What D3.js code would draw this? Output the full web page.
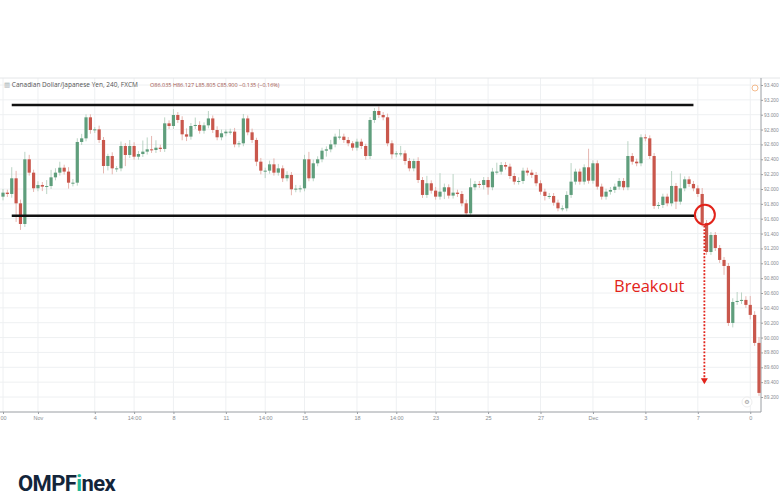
<!DOCTYPE html>
<html>
<head>
<meta charset="utf-8">
<script src="https://cdn.jsdelivr.net/npm/d3@7"></script>
<style>
  body { margin: 0; background: #fff; }
  svg { display: block; font-family: "Open Sans", "DejaVu Sans", sans-serif; }
</style>
</head>
<body>
<svg id="chart" width="780" height="503"></svg>
<script>
// CAD/JPY 4h closes
const closes = [
  91.951, 91.933, 92.144, 91.807, 91.529, 92.400, 92.220, 92.010, 92.054, 92.032,
  92.040, 92.157, 92.220, 92.287, 92.234, 92.085, 92.085, 92.633, 92.682, 92.965,
  92.794, 92.803, 92.660, 92.310, 92.444, 92.278, 92.278, 92.579, 92.458, 92.579,
  92.435, 92.471, 92.503, 92.534, 92.525, 92.556, 92.539, 92.884, 92.848, 92.996,
  92.929, 92.736, 92.705, 92.848, 92.862, 92.785, 92.857, 92.950, 92.794, 92.696,
  92.750, 92.772, 92.772, 92.601, 92.615, 92.950, 92.763, 92.660, 92.368, 92.247,
  92.247, 92.332, 92.220, 92.278, 92.144, 92.189, 91.996, 92.005, 92.009, 92.400,
  92.144, 92.346, 92.400, 92.516, 92.534, 92.601, 92.705, 92.705, 92.660, 92.615,
  92.556, 92.637, 92.579, 92.444, 92.929, 93.050, 92.996, 92.965, 92.615, 92.467,
  92.480, 92.480, 92.377, 92.278, 92.377, 92.121, 91.920, 92.077, 91.978, 91.897,
  91.964, 92.023, 91.911, 91.951, 91.933, 91.807, 91.673, 92.023, 92.068, 92.054,
  92.121, 92.023, 92.234, 92.234, 92.323, 92.301, 92.175, 92.099, 92.108, 92.247,
  92.220, 92.189, 92.077, 91.964, 91.906, 91.906, 91.816, 91.740, 91.740, 91.920,
  92.099, 92.234, 92.099, 92.292, 92.112, 92.346, 92.032, 91.897, 91.964, 91.987,
  92.032, 92.108, 92.023, 92.444, 92.368, 92.346, 92.696, 92.682, 92.444, 91.772,
  91.785, 91.897, 91.807, 92.041, 91.830, 92.009, 92.130, 92.068, 92.009, 91.933,
  91.543, 91.152, 91.381, 91.206, 91.045, 90.964, 90.197, 90.479, 90.493, 90.507,
  90.440, 90.305, 89.928, 89.255
];
const firstOpen = 91.897;

const wickUp = [
  .05,.04,.15,.10,.05,.10,.06,.04,.05,.04, .08,.10,.06,.08,.04,.06,.05,.05,.06,.04,
  .04,.03,.05,.04,.03,.05,.03,.06,.04,.08, .05,.04,.15,.16,.18,.10,.04,.08,.04,.08,
  .04,.05,.08,.04,.10,.05,.04,.10,.04,.05, .05,.03,.04,.05,.03,.06,.04,.05,.03,.05,
  .04,.05,.08,.06,.04,.05,.04,.05,.04,.06, .10,.05,.04,.04,.04,.06,.04,.10,.04,.04,
  .03,.04,.04,.03,.04,.04,.06,.04,.05,.04, .03,.10,.04,.04,.03,.05,.04,.10,.04,.05,
  .25,.05,.04,.25,.04,.04,.05,.12,.04,.04, .04,.04,.05,.12,.04,.04,.04,.04,.05,.04,
  .04,.04,.04,.04,.04,.04,.04,.04,.04,.05, .25,.04,.04,.04,.25,.04,.04,.04,.04,.04,
  .04,.04,.04,.20,.04,.04,.04,.04,.04,.04, .04,.04,.04,.20,.04,.20,.04,.04,.04,.04,
  .08,.04,.04,.04,.04,.04,.04,.05,.12,.10, .05,.12,.05,.08
];
const wickDn = [
  .05,.04,.05,.25,.08,.04,.04,.05,.04,.06, .10,.04,.04,.04,.04,.08,.05,.04,.04,.04,
  .05,.04,.04,.10,.06,.08,.05,.04,.15,.04, .04,.04,.04,.04,.04,.04,.04,.04,.04,.04,
  .04,.08,.06,.04,.04,.04,.04,.04,.04,.04, .04,.04,.04,.04,.04,.04,.04,.04,.06,.05,
  .10,.04,.04,.04,.05,.04,.08,.04,.05,.04, .04,.04,.04,.04,.08,.04,.04,.04,.04,.04,
  .04,.04,.04,.05,.04,.04,.04,.04,.04,.06, .04,.04,.05,.04,.04,.04,.04,.04,.04,.04,
  .04,.10,.04,.04,.04,.04,.03,.04,.04,.04, .06,.10,.04,.04,.04,.04,.04,.04,.04,.04,
  .04,.04,.04,.04,.06,.04,.04,.04,.04,.04, .04,.04,.04,.04,.04,.04,.04,.04,.04,.04,
  .04,.04,.04,.04,.04,.04,.04,.04,.04,.04, .04,.04,.04,.04,.10,.04,.04,.04,.04,.04,
  .05,.04,.04,.04,.04,.12,.04,.06,.04,.04, .04,.06,.04,.04
];

const priceTicks = [93.4, 93.2, 93.0, 92.8, 92.6, 92.4, 92.2, 92.0, 91.8, 91.6, 91.4,
  91.2, 91.0, 90.8, 90.6, 90.4, 90.2, 90.0, 89.8, 89.6, 89.4, 89.2];
const timeLabels = ["00", "Nov", "4", "14:00", "8", "11", "14:00", "15", "18", "14:00",
  "23", "25", "27", "Dec", "3", "7", "0"];
const timeIndex = [0, 8, 21, 30, 39, 51, 60, 69, 81, 90, 99, 111, 123, 135, 147, 159, 171];

// channel lines: price level, from candle, to candle
const channel = [
  { p: 93.13, from: 2, to: 158 },
  { p: 91.64, from: 2, to: 158.6 }
];

const candles = closes.map((c, i) => {
  const o = i === 0 ? firstOpen : closes[i - 1];
  return { i, o, c, h: Math.max(o, c) + wickUp[i], l: Math.min(o, c) - wickDn[i] };
});

const svg = d3.select("#chart");
const plotL = 0, plotR = 761, plotT = 78, plotB = 412;

const x = d3.scaleLinear().domain([0, closes.length - 1]).range([3, 759]);
const y = d3.scaleLinear().domain([89.2, 93.4]).range([397, 85]);

// grid
svg.append("g").selectAll("line").data(priceTicks).join("line")
  .attr("x1", plotL).attr("x2", plotR)
  .attr("y1", d => y(d)).attr("y2", d => y(d))
  .attr("stroke", "#eef0f2");
svg.append("g").selectAll("line").data(timeIndex).join("line")
  .attr("x1", d => x(d)).attr("x2", d => x(d))
  .attr("y1", plotT).attr("y2", plotB)
  .attr("stroke", "#eef0f2");

// frame
svg.append("line").attr("x1", 0).attr("x2", 780).attr("y1", plotT).attr("y2", plotT).attr("stroke", "#e4e6e8");
svg.append("line").attr("x1", plotR).attr("x2", plotR).attr("y1", plotT).attr("y2", plotB).attr("stroke", "#9a9ea3");
svg.append("line").attr("x1", 0).attr("x2", plotR).attr("y1", plotB).attr("y2", plotB).attr("stroke", "#9a9ea3");

// right axis
const yAxis = d3.axisRight(y).tickValues(priceTicks).tickSize(2).tickFormat(d3.format(".3f"));
const ya = svg.append("g").attr("transform", `translate(${plotR},0)`).call(yAxis);
ya.select(".domain").remove();
ya.selectAll("line").attr("stroke", "#9a9ea3");
ya.selectAll("text").attr("fill", "#8a8e93").attr("font-size", 4.8).attr("x", 3);

// bottom axis
const xAxis = d3.axisBottom(x).tickValues(timeIndex).tickSize(2)
  .tickFormat((d, k) => timeLabels[k]);
const xa = svg.append("g").attr("transform", `translate(0,${plotB})`).call(xAxis);
xa.select(".domain").remove();
xa.selectAll("line").attr("stroke", "#9a9ea3");
xa.selectAll("text").attr("fill", "#8a8e93").attr("font-size", 5.5).attr("y", 4);

// candles
const up = "#5f9e7c", dn = "#c9574c";
const g = svg.append("g");
g.selectAll("line").data(candles).join("line")
  .attr("x1", d => x(d.i)).attr("x2", d => x(d.i))
  .attr("y1", d => y(d.h)).attr("y2", d => y(d.l))
  .attr("stroke", d => d.c >= d.o ? "#a9c9b6" : "#dfa49d").attr("stroke-width", 0.8);
g.selectAll("rect").data(candles).join("rect")
  .attr("x", d => x(d.i) - 1.6).attr("width", 3.2)
  .attr("y", d => y(Math.max(d.o, d.c)))
  .attr("height", d => Math.max(1, Math.abs(y(d.o) - y(d.c))))
  .attr("fill", d => d.c >= d.o ? up : dn);

// header
const hdr = svg.append("text").attr("x", 4).attr("y", 87).attr("font-size", 6.5);
hdr.append("tspan").attr("fill", "#9aa").text("▥ ");
hdr.append("tspan").attr("fill", "#555").text("Canadian Dollar/Japanese Yen, 240, FXCM");
svg.append("text").attr("x", 150).attr("y", 87).attr("font-size", 5.5).attr("fill", "#a0524c")
  .text("O86.035  H86.127  L85.805  C85.900  −0.135 (−0.16%)");

// alert icon
svg.append("circle").attr("cx", 755).attr("cy", 88).attr("r", 3).attr("fill", "none").attr("stroke", "#f0a060").attr("stroke-width", 0.7);
svg.append("circle").attr("cx", 747).attr("cy", 402).attr("r", 5).attr("fill", "#fff").attr("stroke", "#eee");
svg.append("text").attr("x", 747).attr("y", 404).attr("text-anchor", "middle").attr("font-size", 6).attr("fill", "#999").text("⚙");

// channel
svg.selectAll(".chan").data(channel).join("line").attr("class", "chan")
  .attr("x1", d => x(d.from)).attr("x2", d => x(d.to))
  .attr("y1", d => y(d.p)).attr("y2", d => y(d.p))
  .attr("stroke", "#111").attr("stroke-width", 2.6);

// breakout annotation
const red = "#e2231a";
const bx = x(160.5), by = y(91.64);
svg.append("circle").attr("cx", bx + 0.5).attr("cy", by - 1).attr("r", 10)
  .attr("fill", "none").attr("stroke", red).attr("stroke-width", 2);
svg.append("line").attr("x1", bx).attr("x2", bx).attr("y1", by + 10).attr("y2", y(89.4) - 2)
  .attr("stroke", red).attr("stroke-width", 1.8).attr("stroke-dasharray", "1.8,1.6");
svg.append("path")
  .attr("d", `M${bx - 3.5},${y(89.4) - 4} L${bx + 3.5},${y(89.4) - 4} L${bx},${y(89.4) + 2} Z`)
  .attr("fill", red);
svg.append("text").attr("x", 614).attr("y", 292).attr("font-size", 16.5).attr("fill", red).text("Breakout");

// logo
const logo = svg.append("text").attr("x", 18).attr("y", 491).attr("font-size", 22)
  .attr("font-weight", "bold").attr("font-family", "Roboto, sans-serif").attr("fill", "#13253a")
  .attr("letter-spacing", -0.6);
logo.append("tspan").text("OMPF");
logo.append("tspan").attr("fill", "#1db597").text("i");
logo.append("tspan").text("nex");
</script>
</body>
</html>
